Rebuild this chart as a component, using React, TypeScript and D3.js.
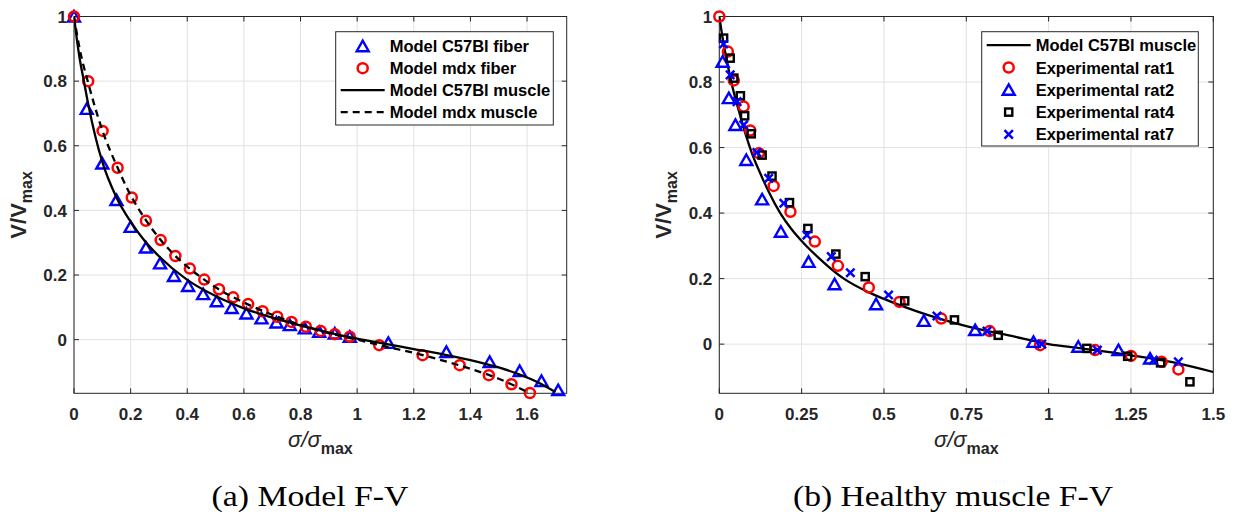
import * as d3 from "d3";

const FONT = "'Liberation Sans', Arial, Helvetica, sans-serif";
const SERIF = "'Liberation Serif', 'Times New Roman', serif";
const AXIS = "#262626";
const GRID = "#e2e2e2";
const BLUE = "#0000ff";
const RED = "#ff0000";

// ---- panel (a): model F-V ----
const aTicksX = [0, 0.2, 0.4, 0.6, 0.8, 1, 1.2, 1.4, 1.6];
const aTicksY = [0, 0.2, 0.4, 0.6, 0.8, 1];

const c57FiberX = [0, 0.045, 0.1, 0.15, 0.2, 0.254, 0.304, 0.353, 0.403, 0.456, 0.504, 0.557, 0.609, 0.662, 0.715, 0.762, 0.815, 0.866, 0.921, 0.974, 1.11, 1.315, 1.468, 1.574, 1.651, 1.71];
const c57FiberV = [1, 0.714, 0.545, 0.432, 0.349, 0.285, 0.236, 0.197, 0.166, 0.141, 0.119, 0.098, 0.081, 0.066, 0.053, 0.045, 0.035, 0.024, 0.019, 0.009, -0.01, -0.038, -0.069, -0.097, -0.128, -0.156];

const mdxFiberX = [0, 0.05, 0.101, 0.154, 0.204, 0.254, 0.306, 0.358, 0.409, 0.46, 0.512, 0.562, 0.615, 0.666, 0.718, 0.768, 0.819, 0.871, 0.921, 0.974, 1.078, 1.231, 1.362, 1.465, 1.545, 1.61];
const mdxFiberV = [1, 0.8, 0.646, 0.532, 0.44, 0.368, 0.308, 0.259, 0.22, 0.186, 0.156, 0.131, 0.11, 0.088, 0.071, 0.055, 0.04, 0.027, 0.017, 0.009, -0.017, -0.048, -0.079, -0.11, -0.138, -0.165];

const c57MuscleX = [0, 0.01, 0.02, 0.035, 0.05, 0.075, 0.1, 0.15, 0.2, 0.25, 0.3, 0.4, 0.5, 0.6, 0.7, 0.8, 0.9, 1.0, 1.1, 1.2, 1.3, 1.4, 1.5, 1.6, 1.65, 1.7];
const c57MuscleV = [1, 0.93, 0.87, 0.8, 0.73, 0.63, 0.55, 0.44, 0.365, 0.305, 0.258, 0.185, 0.135, 0.097, 0.068, 0.044, 0.022, 0.003, -0.013, -0.029, -0.045, -0.063, -0.086, -0.117, -0.137, -0.162];

const mdxMuscleX = [0, 0.02, 0.05, 0.1, 0.15, 0.2, 0.25, 0.3, 0.35, 0.4, 0.45, 0.5, 0.6, 0.7, 0.8, 0.9, 1.0, 1.1, 1.2, 1.3, 1.4, 1.5, 1.61];
const mdxMuscleV = [1, 0.9, 0.795, 0.648, 0.54, 0.447, 0.375, 0.315, 0.266, 0.226, 0.192, 0.162, 0.115, 0.077, 0.046, 0.02, 0.0, -0.021, -0.041, -0.064, -0.09, -0.121, -0.166];

// ---- panel (b): healthy muscle F-V ----
const bTicksX = [0, 0.25, 0.5, 0.75, 1, 1.25, 1.5];
const bTicksY = [0, 0.2, 0.4, 0.6, 0.8, 1];

const modelX = [0, 0.01, 0.02, 0.04, 0.06, 0.08, 0.1, 0.125, 0.15, 0.185, 0.22, 0.25, 0.3, 0.378, 0.45, 0.5, 0.6, 0.75, 0.9, 1.0, 1.1, 1.25, 1.4, 1.5];
const modelV = [1, 0.935, 0.88, 0.785, 0.71, 0.64, 0.58, 0.52, 0.465, 0.4, 0.35, 0.315, 0.265, 0.2, 0.16, 0.138, 0.1, 0.055, 0.022, 0.0, -0.013, -0.034, -0.06, -0.085];

const rat1X = [0, 0.026, 0.044, 0.074, 0.094, 0.12, 0.165, 0.216, 0.29, 0.36, 0.454, 0.547, 0.674, 0.821, 0.974, 1.141, 1.25, 1.343, 1.394];
const rat1V = [1, 0.893, 0.805, 0.725, 0.652, 0.583, 0.483, 0.404, 0.313, 0.239, 0.173, 0.129, 0.078, 0.04, -0.003, -0.018, -0.036, -0.054, -0.077];

const rat2X = [0.01, 0.029, 0.049, 0.082, 0.13, 0.187, 0.271, 0.35, 0.476, 0.621, 0.777, 0.954, 1.09, 1.212, 1.308];
const rat2V = [0.862, 0.751, 0.669, 0.562, 0.442, 0.343, 0.251, 0.183, 0.122, 0.071, 0.043, 0.007, -0.008, -0.018, -0.044];

const rat4X = [0.013, 0.033, 0.044, 0.064, 0.077, 0.097, 0.13, 0.16, 0.213, 0.269, 0.354, 0.443, 0.563, 0.714, 0.847, 1.116, 1.24, 1.34, 1.429];
const rat4V = [0.934, 0.873, 0.812, 0.758, 0.697, 0.642, 0.577, 0.513, 0.432, 0.353, 0.275, 0.206, 0.132, 0.074, 0.027, -0.013, -0.037, -0.057, -0.115];

const rat7X = [0.013, 0.033, 0.054, 0.074, 0.114, 0.15, 0.196, 0.266, 0.34, 0.398, 0.514, 0.661, 0.813, 0.979, 1.148, 1.318, 1.394];
const rat7V = [0.916, 0.822, 0.74, 0.669, 0.585, 0.506, 0.43, 0.333, 0.267, 0.218, 0.15, 0.086, 0.04, 0.0, -0.018, -0.049, -0.054];

type Pt = [number, number];
type Scale = d3.ScaleLinear<number, number>;
const zip = (xs: number[], ys: number[]): Pt[] => xs.map((x, i) => [x, ys[i]]);

function Mark({ kind, x, y }: { kind: string; x: number; y: number }) {
  if (kind === "circle")
    return <circle cx={x} cy={y} r={5} fill="none" stroke={RED} strokeWidth={2.5} />;
  if (kind === "tri")
    return (
      <path
        d={`M${x},${y - 5.5}L${x + 6},${y + 5}L${x - 6},${y + 5}Z`}
        fill="none"
        stroke={BLUE}
        strokeWidth={2.4}
      />
    );
  if (kind === "square")
    return <rect x={x - 3.6} y={y - 3.6} width={7.2} height={7.2} fill="none" stroke="#000" strokeWidth={2.4} />;
  return (
    <path
      d={`M${x - 4.2},${y - 4.2}L${x + 4.2},${y + 4.2}M${x - 4.2},${y + 4.2}L${x + 4.2},${y - 4.2}`}
      stroke={BLUE}
      strokeWidth={2.5}
    />
  );
}

function Markers({ pts, kind, x, y }: { pts: Pt[]; kind: string; x: Scale; y: Scale }) {
  return (
    <g>
      {pts.map((p, i) => (
        <Mark key={i} kind={kind} x={x(p[0])} y={y(p[1])} />
      ))}
    </g>
  );
}

function Curve({ pts, x, y, dash, clip }: { pts: Pt[]; x: Scale; y: Scale; dash?: string; clip: string }) {
  const line = d3
    .line<Pt>()
    .x((d) => x(d[0]))
    .y((d) => y(d[1]))
    .curve(d3.curveMonotoneX);
  return (
    <path
      d={line(pts) || ""}
      fill="none"
      stroke="#000"
      strokeWidth={2.3}
      strokeDasharray={dash}
      clipPath={`url(#${clip})`}
    />
  );
}

function Frame({ x, y, xTicks, yTicks, id }: { x: Scale; y: Scale; xTicks: number[]; yTicks: number[]; id: string }) {
  const [x0, x1] = x.range();
  const [y0, y1] = y.range();
  const tl = 5;
  return (
    <g>
      <defs>
        <clipPath id={id}>
          <rect x={x0} y={y1} width={x1 - x0} height={y0 - y1} />
        </clipPath>
      </defs>
      <rect x={x0} y={y1} width={x1 - x0} height={y0 - y1} fill="#fff" />
      {xTicks.map((t) => (
        <line key={"gx" + t} x1={x(t)} x2={x(t)} y1={y1} y2={y0} stroke={GRID} strokeWidth={1} />
      ))}
      {yTicks.map((t) => (
        <line key={"gy" + t} x1={x0} x2={x1} y1={y(t)} y2={y(t)} stroke={GRID} strokeWidth={1} />
      ))}
      {xTicks.map((t) => (
        <g key={"tx" + t}>
          <line x1={x(t)} x2={x(t)} y1={y0} y2={y0 - tl} stroke={AXIS} />
          <line x1={x(t)} x2={x(t)} y1={y1} y2={y1 + tl} stroke={AXIS} />
        </g>
      ))}
      {yTicks.map((t) => (
        <g key={"ty" + t}>
          <line x1={x0} x2={x0 + tl} y1={y(t)} y2={y(t)} stroke={AXIS} />
          <line x1={x1} x2={x1 - tl} y1={y(t)} y2={y(t)} stroke={AXIS} />
        </g>
      ))}
      <rect x={x0} y={y1} width={x1 - x0} height={y0 - y1} fill="none" stroke={AXIS} strokeWidth={1} />
      <g fontFamily={FONT} fontWeight="bold" fontSize={17} fill={AXIS}>
        {xTicks.map((t) => (
          <text key={"lx" + t} x={x(t)} y={y0 + 27} textAnchor="middle">
            {String(t)}
          </text>
        ))}
        {yTicks.map((t) => (
          <text key={"ly" + t} x={x0 - 7} y={y(t)} dy="0.36em" textAnchor="end">
            {String(t)}
          </text>
        ))}
      </g>
      {/* axis labels */}
      <text
        transform={`translate(${x0 - 48},${(y0 + y1) / 2}) rotate(-90)`}
        textAnchor="middle"
        fontFamily={FONT}
        fontWeight="bold"
        fontSize={22}
        fill={AXIS}
      >
        V/V
        <tspan fontSize={16} dy={6}>
          max
        </tspan>
      </text>
      <text
        x={(x0 + x1) / 2}
        y={y0 + 54}
        textAnchor="middle"
        fontFamily={FONT}
        fontWeight="bold"
        fontSize={22}
        fill={AXIS}
      >
        <tspan fontStyle="italic" fontWeight="normal">σ/σ</tspan>
        <tspan fontSize={16} dy={7}>
          max
        </tspan>
      </text>
    </g>
  );
}

type Entry = { label: string; kind: string; dash?: string };

function Legend({ x, y, w, h, entries, rowH, first }: { x: number; y: number; w: number; h: number; entries: Entry[]; rowH: number; first: number }) {
  const mx = x + 27;
  return (
    <g>
      <rect x={x} y={y} width={w} height={h} fill="#fff" stroke={AXIS} strokeWidth={1} />
      {entries.map((e, i) => {
        const ry = y + first + i * rowH;
        return (
          <g key={e.label}>
            {e.kind === "line" ? (
              <line x1={x + 5} x2={x + 49} y1={ry} y2={ry} stroke="#000" strokeWidth={2.3} strokeDasharray={e.dash} />
            ) : (
              <Mark kind={e.kind} x={mx} y={ry} />
            )}
            <text x={x + 54} y={ry + 6} fontFamily={FONT} fontWeight="bold" fontSize={16.5} fill="#000">
              {e.label}
            </text>
          </g>
        );
      })}
    </g>
  );
}

export default function App() {
  const ax = d3.scaleLinear().domain([0, 1.74]).range([74, 566.7]);
  const ay = d3.scaleLinear().domain([-0.166, 1]).range([393.3, 16.5]);
  const bx = d3.scaleLinear().domain([0, 1.5]).range([719.3, 1213.3]);
  const by = d3.scaleLinear().domain([-0.15, 1]).range([393.3, 16.5]);

  const legA: Entry[] = [
    { label: "Model C57Bl fiber", kind: "tri" },
    { label: "Model mdx fiber", kind: "circle" },
    { label: "Model C57Bl muscle", kind: "line" },
    { label: "Model mdx muscle", kind: "line", dash: "7,5" },
  ];
  const legB: Entry[] = [
    { label: "Model C57Bl muscle", kind: "line" },
    { label: "Experimental rat1", kind: "circle" },
    { label: "Experimental rat2", kind: "tri" },
    { label: "Experimental rat4", kind: "square" },
    { label: "Experimental rat7", kind: "cross" },
  ];

  return (
    <div style={{ position: "absolute", left: 0, top: 0, background: "#fff" }}>
      <svg width={1240} height={518} style={{ display: "block" }}>
        <rect width={1240} height={518} fill="#fff" />

        <Frame x={ax} y={ay} xTicks={aTicksX} yTicks={aTicksY} id="clipA" />
        <Markers pts={zip(c57FiberX, c57FiberV)} kind="tri" x={ax} y={ay} />
        <Markers pts={zip(mdxFiberX, mdxFiberV)} kind="circle" x={ax} y={ay} />
        <Curve pts={zip(c57MuscleX, c57MuscleV)} x={ax} y={ay} clip="clipA" />
        <Curve pts={zip(mdxMuscleX, mdxMuscleV)} x={ax} y={ay} dash="7,5" clip="clipA" />
        <Legend x={335.7} y={31.7} w={217.6} h={93.3} entries={legA} rowH={22} first={14.5} />

        <Frame x={bx} y={by} xTicks={bTicksX} yTicks={bTicksY} id="clipB" />
        <Curve pts={zip(modelX, modelV)} x={bx} y={by} clip="clipB" />
        <Markers pts={zip(rat1X, rat1V)} kind="circle" x={bx} y={by} />
        <Markers pts={zip(rat2X, rat2V)} kind="tri" x={bx} y={by} />
        <Markers pts={zip(rat4X, rat4V)} kind="square" x={bx} y={by} />
        <Markers pts={zip(rat7X, rat7V)} kind="cross" x={bx} y={by} />
        <Legend x={981.7} y={31.7} w={216.6} h={114.3} entries={legB} rowH={22.3} first={13.5} />

        <text x={310} y={506} textAnchor="middle" fontFamily={SERIF} fontSize={30} fill="#000" textLength={197} lengthAdjust="spacingAndGlyphs">
          (a) Model F-V
        </text>
        <text x={953} y={506} textAnchor="middle" fontFamily={SERIF} fontSize={30} fill="#000" textLength={320} lengthAdjust="spacingAndGlyphs">
          (b) Healthy muscle F-V
        </text>
      </svg>
    </div>
  );
}
